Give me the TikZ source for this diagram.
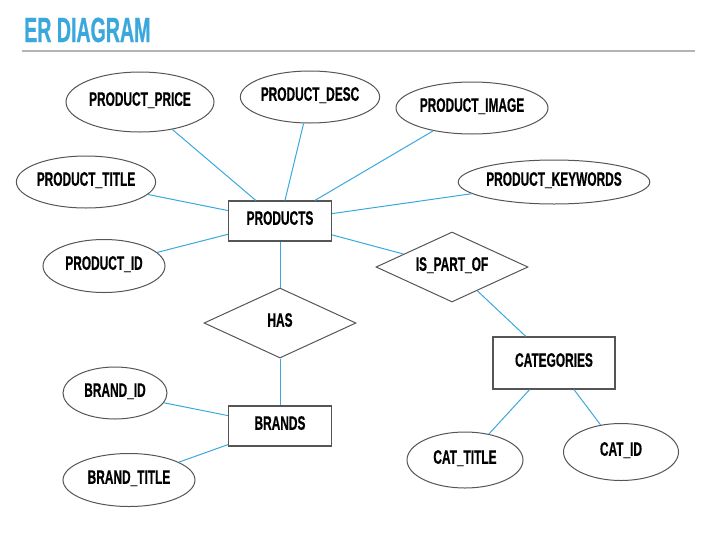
\documentclass[tikz,border=0pt]{standalone}
\usepackage{fontspec}
\usetikzlibrary{shapes.geometric}
\newfontfamily\erfont{Liberation Sans}[FakeStretch=0.61, BoldFeatures={FakeBold=0.5}]
\newfontfamily\ertitlefont{Liberation Sans}[FakeStretch=0.56, BoldFeatures={FakeBold=0.6}]
\definecolor{erblue}{HTML}{3AA8DC}
\definecolor{ergray}{HTML}{555555}
\definecolor{errule}{HTML}{B4B4B4}
\begin{document}
\begin{tikzpicture}[x=1pt,y=-1pt,
  lbl/.style={font=\erfont\bfseries\fontsize{19.5}{19.5}\selectfont, text height=14pt, text depth=6.5pt, inner sep=0pt},
  attr/.style={lbl, ellipse, draw=ergray, line width=1pt},
  ent/.style={lbl, rectangle, draw=ergray, line width=1.2pt},
  rel/.style={lbl, diamond, draw=ergray, line width=1pt, shape aspect=2.17, minimum width=152pt, minimum height=70pt},
  link/.style={draw=erblue, line width=1pt}]
\useasboundingbox (0,0) rectangle (714,533);
\node[anchor=base west, inner sep=0pt, text=erblue, font=\ertitlefont\bfseries\fontsize{35}{35}\selectfont] (title) at (24,42) {ER DIAGRAM};
\coordinate (rl) at (22,51);
\coordinate (rr) at (695,51);
\draw[errule, line width=1.5pt] (rl) -- (rr);

% entities
\node[ent, minimum width=103pt, minimum height=40pt] (products) at (280,221) {PRODUCTS};
\node[ent, minimum width=103pt, minimum height=40pt] (brands) at (280,426) {BRANDS};
\node[ent, minimum width=122pt, minimum height=52pt] (categories) at (554,363) {CATEGORIES};

% relations
\node[rel] (has) at (280,323) {HAS};
\node[rel] (ispartof) at (452,267) {IS\_PART\_OF};

% attributes
\node[attr, minimum width=148pt, minimum height=60pt] (price) at (140,102) {PRODUCT\_PRICE};
\node[attr, minimum width=130pt, minimum height=52pt] (desc) at (310,97) {PRODUCT\_DESC};
\node[attr, minimum width=152pt, minimum height=52pt] (image) at (472,108) {PRODUCT\_IMAGE};
\node[attr, minimum width=134pt, minimum height=52pt] (ptitle) at (86,182) {PRODUCT\_TITLE};
\node[attr, minimum width=184pt, minimum height=44pt] (keywords) at (554,182) {PRODUCT\_KEYWORDS};
\node[attr, minimum width=122pt, minimum height=53pt] (pid) at (104,266) {PRODUCT\_ID};
\node[attr, minimum width=104pt, minimum height=52pt] (brandid) at (115,393) {BRAND\_ID};
\node[attr, minimum width=132pt, minimum height=53pt] (brandtitle) at (129,480) {BRAND\_TITLE};
\node[attr, minimum width=116pt, minimum height=56pt] (cattitle) at (465,460) {CAT\_TITLE};
\node[attr, minimum width=115pt, minimum height=57pt] (catid) at (621,452) {CAT\_ID};

% connectors
\draw[link] (price) -- (products);
\draw[link] (desc) -- (products);
\draw[link] (image) -- (products);
\draw[link] (ptitle) -- (products);
\draw[link] (keywords) -- (products);
\draw[link] (pid) -- (products);
\draw[link] (products) -- (has);
\draw[link] (has) -- (brands);
\draw[link] (products) -- (ispartof);
\draw[link] (ispartof) -- (categories);
\draw[link] (brandid) -- (brands);
\draw[link] (brandtitle) -- (brands);
\draw[link] (categories) -- (cattitle);
\draw[link] (categories) -- (catid);
\end{tikzpicture}
\end{document}
